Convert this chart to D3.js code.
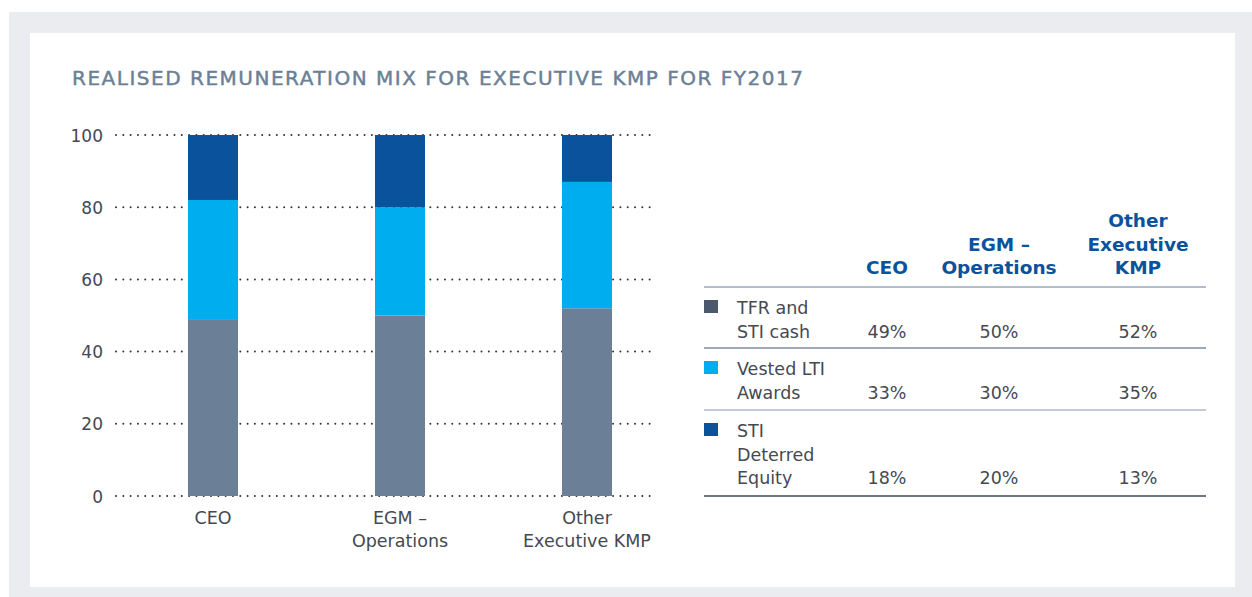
<!DOCTYPE html>
<html>
<head>
<meta charset="utf-8">
<script src="https://cdn.jsdelivr.net/npm/d3@7/dist/d3.min.js"></script>
<style>
  html, body { margin: 0; padding: 0; background: #ffffff; }
  svg { display: block; }
  text { font-family: "DejaVu Sans", "Noto Sans", sans-serif; }
</style>
</head>
<body>
<svg id="chart" width="1252" height="597"></svg>
<script>
// Remuneration mix data (percent of total realised pay)
const categories = ["CEO", "EGM – Operations", "Other Executive KMP"];
const categoryLines = [["CEO"], ["EGM –", "Operations"], ["Other", "Executive KMP"]];
const headerLines = [["CEO"], ["EGM –", "Operations"], ["Other", "Executive", "KMP"]];
const seriesNames = ["TFR and STI cash", "Vested LTI Awards", "STI Deterred Equity"];
const seriesLabelLines = [["TFR and", "STI cash"], ["Vested LTI", "Awards"], ["STI", "Deterred", "Equity"]];
const tfrSti = [49, 50, 52];
const vestedLti = [33, 30, 35];
const stiDeferred = [18, 20, 13];
const yTicks = [0, 20, 40, 60, 80, 100];
const title = "REALISED REMUNERATION MIX FOR EXECUTIVE KMP FOR FY2017";

const barColors = ["#6b8096", "#00adee", "#0a539c"];
const legendColors = ["#4a5a6c", "#00adee", "#0a539c"];
const textColor = "#444952";

const svg = d3.select("#chart");

// Page frame
svg.append("rect").attr("x", 9).attr("y", 12).attr("width", 1243).attr("height", 585).attr("fill", "#ebecf0");
svg.append("rect").attr("x", 30).attr("y", 33).attr("width", 1205).attr("height", 554).attr("fill", "#ffffff");

// Title
svg.append("text")
  .attr("x", 72).attr("y", 85)
  .attr("fill", "#6b8096")
  .attr("stroke", "#6b8096")
  .attr("stroke-width", 0.45)
  .attr("font-size", 20)
  .attr("textLength", 731)
  .attr("lengthAdjust", "spacing")
  .text(title);

// Scales
const rows = categories.map((c, i) => ({
  category: c,
  tfr: tfrSti[i],
  lti: vestedLti[i],
  sti: stiDeferred[i]
}));
const keys = ["tfr", "lti", "sti"];

const x = d3.scaleBand().domain(categories).range([188, 612]).paddingInner(0.7326).paddingOuter(0);
const y = d3.scaleLinear().domain([0, 100]).range([496, 135]);

// Dotted gridlines
const grid = svg.append("g");
grid.selectAll("line").data(yTicks).join("line")
  .attr("x1", 116).attr("x2", 652)
  .attr("y1", d => y(d)).attr("y2", d => y(d))
  .attr("stroke", "#2e3440")
  .attr("stroke-width", 2)
  .attr("stroke-linecap", "round")
  .attr("stroke-dasharray", "0.01 7.3");

// Y axis labels
const yAxis = d3.axisLeft(y).tickValues(yTicks).tickSize(0).tickPadding(0);
const yg = svg.append("g").attr("transform", "translate(103,0)").call(yAxis);
yg.select(".domain").remove();
yg.selectAll("text")
  .attr("font-size", 17)
  .attr("fill", textColor)
  .attr("font-family", "\"DejaVu Sans\", sans-serif")
  .attr("dy", "0.36em");

// Stacked bars
const stacked = d3.stack().keys(keys)(rows);
svg.append("g").selectAll("g").data(stacked).join("g")
  .attr("fill", (d, i) => barColors[i])
  .selectAll("rect").data(d => d).join("rect")
  .attr("x", d => x(d.data.category))
  .attr("width", x.bandwidth())
  .attr("y", d => y(d[1]))
  .attr("height", d => y(d[0]) - y(d[1]));

// Category labels under bars
const catLabels = svg.append("g");
categories.forEach((c, i) => {
  const t = catLabels.append("text")
    .attr("x", x(c) + x.bandwidth() / 2)
    .attr("y", 524)
    .attr("text-anchor", "middle")
    .attr("font-size", 17.5)
    .attr("fill", textColor);
  categoryLines[i].forEach((line, j) => {
    t.append("tspan").attr("x", x(c) + x.bandwidth() / 2).attr("dy", j === 0 ? 0 : 23).text(line);
  });
});

// Summary table
const colCenters = [887, 999, 1138];
const tableLeft = 704, tableRight = 1206;
const table = svg.append("g");

headerLines.forEach((lines, i) => {
  lines.forEach((line, j) => {
    table.append("text")
      .attr("x", colCenters[i])
      .attr("y", 274 - (lines.length - 1 - j) * 23.5)
      .attr("text-anchor", "middle")
      .attr("font-size", 18.5)
      .attr("font-weight", 700)
      .attr("fill", "#0a539c")
      .text(line);
  });
});

const ruleYs = [287, 348, 410, 496];
const ruleColors = ["#9aa8b8", "#7a8ca0", "#b1bac6", "#3e4a5a"];
table.selectAll("line.rule").data(ruleYs).join("line")
  .attr("class", "rule")
  .attr("x1", tableLeft).attr("x2", tableRight)
  .attr("y1", d => d).attr("y2", d => d)
  .attr("stroke", (d, i) => ruleColors[i])
  .attr("stroke-width", 1.5);

const seriesValues = [tfrSti, vestedLti, stiDeferred];
seriesNames.forEach((name, s) => {
  const top = ruleYs[s];
  const firstBase = top + 27;
  table.append("rect")
    .attr("x", tableLeft).attr("y", firstBase - 14)
    .attr("width", 14).attr("height", 13)
    .attr("fill", legendColors[s]);
  const lines = seriesLabelLines[s];
  lines.forEach((line, j) => {
    table.append("text")
      .attr("x", 737)
      .attr("y", firstBase + j * 23.5)
      .attr("font-size", 17.5)
      .attr("fill", textColor)
      .text(line);
  });
  const lastBase = firstBase + (lines.length - 1) * 23.5;
  seriesValues[s].forEach((v, i) => {
    table.append("text")
      .attr("x", colCenters[i])
      .attr("y", lastBase)
      .attr("text-anchor", "middle")
      .attr("font-size", 17.5)
      .attr("fill", textColor)
      .text(v + "%");
  });
});
</script>
</body>
</html>
